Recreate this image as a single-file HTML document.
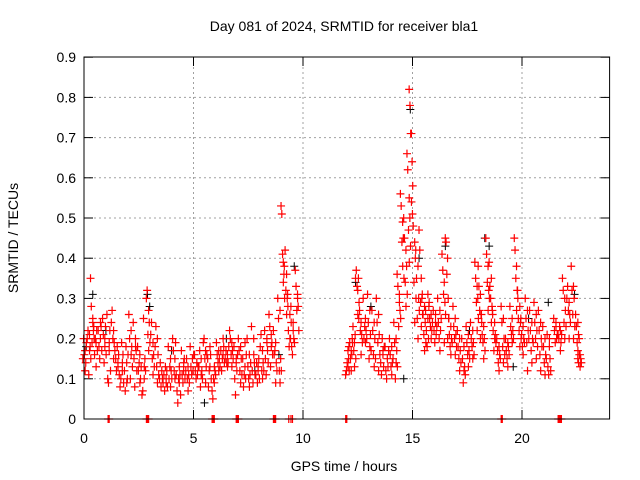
<!DOCTYPE html>
<html><head><meta charset="utf-8"><style>
body{margin:0;background:#fff;}
svg{display:block;font-family:"Liberation Sans",sans-serif;}
</style></head><body>
<svg id="chart" width="640" height="480" viewBox="0 0 640 480">
<rect width="640" height="480" fill="#fff"/>
<text x="344" y="31" text-anchor="middle" font-size="14">Day 081 of 2024, SRMTID for receiver bla1</text>
<text transform="translate(18,238) rotate(-90)" text-anchor="middle" font-size="14">SRMTID / TECUs</text>
<text x="344" y="471" text-anchor="middle" font-size="14">GPS time / hours</text>
<g id="grid"></g><g id="ticks"></g><g id="marks"></g>
<rect x="84" y="57" width="525.6" height="362" fill="none" stroke="#000" stroke-width="1"/>
</svg>
<script>
const xTicks=[0,5,10,15,20];
const yTicks=[0,0.1,0.2,0.3,0.4,0.5,0.6,0.7,0.8,0.9];
const yTickLabels=["0","0.1","0.2","0.3","0.4","0.5","0.6","0.7","0.8","0.9"];
const redTimes=[0,0.2,0.35,0.5,0.7,0.9,1.1,1.3,1.5,1.7,1.9,2.1,2.3,2.5,2.7,2.9,3.1,3.3,3.5,3.7,3.9,4.1,4.3,4.5,4.7,4.9,5.1,5.3,5.5,5.7,5.9,6.1,6.3,6.5,6.7,6.9,7.1,7.3,7.5,7.7,7.9,8.1,8.3,8.5,8.7,8.9,9.05,9.2,9.35,9.5,9.7,
12.0,12.15,12.3,12.45,12.6,12.8,13.0,13.2,13.4,13.6,13.8,14.0,14.2,14.35,14.5,14.65,14.8,14.9,15.05,15.2,15.35,15.5,15.65,15.8,16.0,16.2,16.4,16.55,16.7,16.9,17.1,17.3,17.5,17.7,17.9,18.05,18.2,18.4,18.55,18.7,18.9,19.1,19.3,19.5,19.7,19.85,20.0,20.2,20.4,20.6,20.8,21.0,21.2,21.5,21.7,21.9,22.1,22.3,22.5,22.6];
const redValues=[[.15,.2,.16,.12],[.2,.22,.11,.17],[.35,.28,.19,.24],[.23,.16,.2,.13],[.22,.18,.15,.24],[.25,.21,.14,.18],[.26,.1,.09,.19],[.24,.27,.2,.15],[.15,.12,.18,.13],[.08,.1,.19,.14],[.12,.07,.18,.09],[.26,.2,.1,.16],[.24,.15,.08,.18],[.18,.12,.14,.09],[.06,.07,.25,.13],[.3,.32,.21,.17],[.21,.24,.15,.11],[.18,.23,.13,.09],[.1,.14,.08,.12],[.11,.07,.13,.09],[.18,.1,.13,.08],[.2,.17,.12,.1],[.07,.04,.1,.13],[.17,.11,.09,.14],[.12,.15,.1,.07],[.18,.13,.11,.15],[.16,.12,.1,.14],[.13,.17,.08,.11],[.19,.2,.15,.09],[.15,.08,.12,.18],[.07,.05,.1,.13],[.19,.16,.14,.12],[.17,.12,.15,.2],[.15,.17,.14,.13],[.22,.2,.16,.13],[.18,.1,.06,.15],[.2,.17,.12,.09],[.15,.08,.11,.19],[.2,.13,.1,.08],[.23,.12,.09,.16],[.11,.14,.09,.13],[.18,.21,.12,.1],[.22,.15,.11,.19],[.26,.23,.13,.18],[.22,.16,.17,.09],[.3,.25,.12,.09],[.53,.51,.41,.34],[.38,.42,.32,.26],[.31,.22,.18,.2],[.28,.18,.16,.22],[.37,.33,.27,.3],
[.11,.12,.14,.17],[.18,.19,.15,.12],[.2,.23,.17,.13],[.35,.37,.33,.26],[.25,.27,.22,.16],[.3,.2,.23,.19],[.31,.24,.15,.18],[.27,.22,.16,.13],[.3,.24,.19,.12],[.14,.11,.2,.17],[.18,.12,.1,.15],[.2,.16,.13,.11],[.24,.19,.1,.14],[.36,.33,.23,.29],[.56,.53,.44,.38],[.5,.45,.34,.28],[.66,.62,.47,.39],[.82,.78,.71,.54],[.51,.48,.34,.24],[.42,.35,.25,.2],[.47,.42,.29,.23],[.31,.26,.21,.17],[.27,.22,.18,.31],[.28,.25,.23,.2],[.27,.22,.19,.26],[.3,.24,.2,.17],[.41,.37,.31,.19],[.45,.44,.36,.2],[.25,.21,.18,.16],[.28,.23,.2,.16],[.22,.18,.15,.12],[.2,.15,.09,.12],[.23,.19,.16,.13],[.24,.2,.18,.15],[.39,.35,.29,.22],[.38,.33,.27,.2],[.26,.21,.19,.15],[.45,.41,.34,.27],[.39,.33,.3,.24],[.27,.22,.17,.2],[.2,.17,.14,.12],[.28,.24,.18,.14],[.2,.17,.15,.13],[.28,.23,.21,.19],[.45,.42,.35,.27],[.32,.25,.22,.18],[.25,.21,.18,.16],[.3,.25,.19,.12],[.27,.22,.17,.14],[.29,.24,.2,.15],[.27,.22,.16,.12],[.23,.18,.14,.11],[.21,.13,.11,.2],[.25,.22,.19,.23],[.21,.2,.23,.17],[.35,.32,.24,.2],[.3,.33,.27,.2],[.38,.32,.26,.2],[.26,.23,.19,.17],[.15,.14,.16,.13]];
const redValues2=[[.17,.14,.19],[.21,.18,.15],[.25,.22,.2],[.19,.22,.17],[.2,.23,.17],[.2,.23,.16],[.17,.22,.12],[.22,.19,.17],[.14,.16,.11],[.12,.16,.09],[.14,.1,.16],[.22,.18,.13],[.2,.17,.12],[.16,.1,.13],[.1,.15,.12],[.27,.24,.19],[.19,.16,.13],[.2,.16,.11],[.12,.1,.09],[.1,.12,.08],[.15,.12,.1],[.15,.19,.11],[.09,.11,.06],[.12,.15,.1],[.13,.11,.09],[.15,.12,.16],[.14,.11,.13],[.15,.12,.1],[.17,.13,.16],[.13,.16,.1],[.09,.12,.11],[.17,.15,.13],[.16,.18,.14],[.16,.14,.18],[.19,.17,.15],[.14,.12,.16],[.18,.15,.11],[.13,.1,.16],[.16,.11,.14],[.2,.14,.11],[.12,.15,.1],[.17,.14,.12],[.2,.17,.14],[.21,.19,.16],[.19,.14,.12],[.27,.15,.12],[.39,.36,.3],[.36,.3,.28],[.26,.2,.24],[.24,.2,.19],[.31,.28,.22],
[.13,.15,.12],[.17,.16,.19],[.19,.21,.15],[.32,.35,.29],[.24,.21,.19],[.25,.22,.2],[.27,.21,.17],[.24,.2,.15],[.26,.21,.16],[.16,.13,.18],[.15,.13,.17],[.18,.14,.15],[.2,.17,.13],[.31,.27,.25],[.49,.45,.35],[.42,.38,.31],[.55,.5,.43],[.71,.64,.58],[.44,.4,.3],[.38,.3,.27],[.35,.3,.26],[.28,.24,.19],[.25,.2,.29],[.26,.22,.24],[.24,.21,.23],[.27,.22,.25],[.34,.29,.26],[.4,.3,.25],[.23,.2,.19],[.25,.21,.18],[.2,.17,.14],[.18,.13,.11],[.21,.17,.15],[.22,.19,.16],[.33,.3,.25],[.31,.26,.24],[.23,.2,.17],[.38,.32,.3],[.35,.28,.26],[.24,.21,.19],[.18,.16,.15],[.25,.2,.16],[.19,.18,.16],[.25,.22,.2],[.38,.32,.3],[.28,.24,.2],[.23,.2,.19],[.27,.22,.2],[.24,.2,.19],[.26,.22,.18],[.24,.2,.18],[.2,.16,.15],[.18,.15,.12],[.24,.2,.21],[.22,.19,.21],[.3,.27,.23],[.29,.26,.24],[.33,.3,.23],[.24,.21,.2],[.16,.15,.14]];
const zeroTimes=[1.1,1.15,2.85,2.9,2.95,5.85,5.9,5.95,6.95,7.0,7.05,8.65,8.7,8.75,9.35,9.45,9.52,11.95,12.0,19.05,19.1,21.65,21.7,21.75,21.8];
const blackTimes=[0.1,0.4,1.0,2.9,3.0,4.0,5.5,6.5,7.8,8.9,9.6,12.4,13.1,14.6,14.9,15.3,16.5,17.6,18.3,18.5,19.6,20.3,21.2,22.4];
const blackValues=[.18,.31,.22,.31,.28,.17,.04,.2,.12,.16,.38,.34,.28,.1,.77,.4,.43,.22,.45,.43,.13,.25,.29,.31];

const X=t=>84+t*21.9, Y=v=>419-v*402;
const NS="http://www.w3.org/2000/svg";
const grid=document.getElementById('grid'), ticks=document.getElementById('ticks'), marks=document.getElementById('marks');
function mk(tag,attrs,parent){const e=document.createElementNS(NS,tag);for(const k in attrs)e.setAttribute(k,attrs[k]);parent.appendChild(e);return e;}
yTicks.forEach((v,i)=>{
  const y=Y(v);
  if(i>0&&i<yTicks.length-1){const g=mk('line',{x1:84,x2:609.6,y1:y,y2:y,stroke:'#a0a0a0','stroke-dasharray':'2,3'},grid);
  
  }
  mk('line',{x1:84,x2:93,y1:y,y2:y,stroke:'#000'},ticks);
  mk('line',{x1:600.6,x2:609.6,y1:y,y2:y,stroke:'#000'},ticks);
  const t=mk('text',{x:76,y:y+5,'text-anchor':'end','font-size':14},ticks);
  t.textContent=yTickLabels[i];
  
  
});
xTicks.forEach(v=>{
  const x=X(v);
  if(v>0){const g=mk('line',{x1:x,x2:x,y1:57,y2:419,stroke:'#a0a0a0','stroke-dasharray':'2,3'},grid);
  
  }
  mk('line',{x1:x,x2:x,y1:419,y2:410,stroke:'#000'},ticks);
  mk('line',{x1:x,x2:x,y1:57,y2:66,stroke:'#000'},ticks);
  const t=mk('text',{x:x,y:443,'text-anchor':'middle','font-size':14},ticks);
  t.textContent=String(v);
  
  
});
function plus(x,y){return `M${x-4},${y}h8M${x},${y-4}v8`;}
let dB='';
blackTimes.forEach((t,i)=>{dB+=plus(X(t),Y(blackValues[i]));});
const pb=mk('path',{d:dB,stroke:'#000','stroke-width':1,fill:'none'},marks);


let dR='';
redTimes.forEach((t,i)=>{redValues[i].forEach((v,j)=>{dR+=plus(X(t+(j-1.5)*0.035),Y(v));});});
redTimes.forEach((t,i)=>{redValues2[i].forEach((v,j)=>{dR+=plus(X(t+0.08+(j-1)*0.03),Y(v));});});
zeroTimes.forEach(t=>{dR+=plus(X(t),Y(0));});
const pr=mk('path',{d:dR,stroke:'#ff0000','stroke-width':1.2,fill:'none'},marks);


</script>
</body></html>
